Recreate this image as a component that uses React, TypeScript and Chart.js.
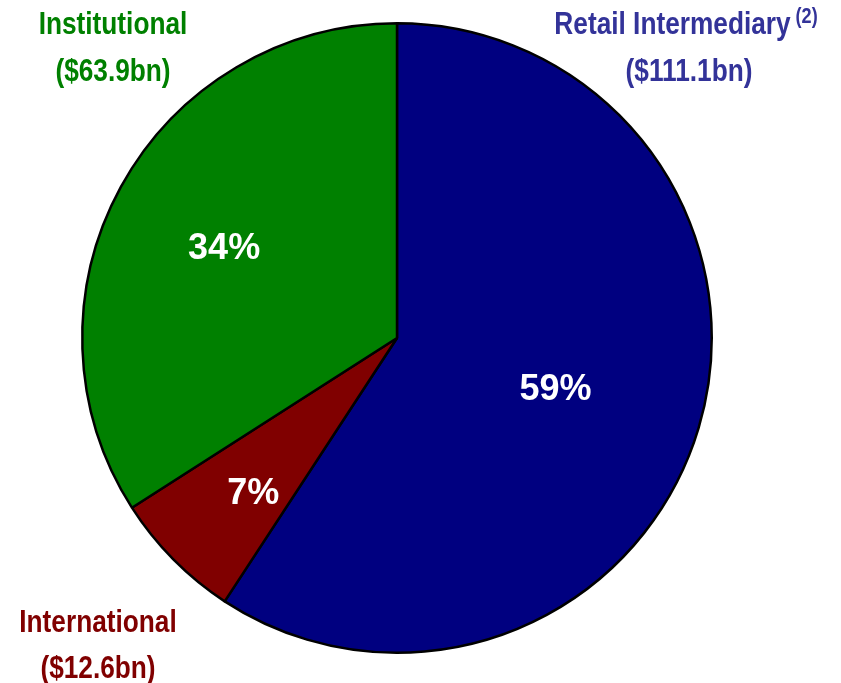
import React, { useEffect, useRef } from "react";
import { Chart, registerables } from "chart.js";

Chart.register(...registerables);

const categories = ["Retail Intermediary", "International", "Institutional"];
const aumValues = [111.1, 12.6, 63.9];
const amountLabels = ["($111.1bn)", "($12.6bn)", "($63.9bn)"];
const footnotes = ["(2)", "", ""];
const sliceColors = ["#000080", "#800000", "#008000"];
const labelColors = ["#333399", "#800000", "#008000"];

// label placement (layout only): [line1 centre x, line1 baseline, line2 centre x, line2 baseline]
const pctRadiusFrac = [0.53, 0.674, 0.617];
const pctAnglePos = [0.507, 0.39, 0.487];
const outsideLayout = [
  [686, 34, 689, 81],
  [98, 632, 98, 678],
  [113, 34, 113, 81],
];

const NARROW = 0.82;
const LABEL_FONT = "bold 32px 'Liberation Sans', Arial, sans-serif";
const SUP_FONT = "bold 22px 'Liberation Sans', Arial, sans-serif";
const PCT_FONT = "bold 36px 'Liberation Sans', Arial, sans-serif";

function narrowText(ctx: any, text: string, x: number, y: number, align: "left" | "center") {
  const w = ctx.measureText(text).width * NARROW;
  const left = align === "center" ? x - w / 2 : x;
  ctx.save();
  ctx.translate(left, y);
  ctx.scale(NARROW, 1);
  ctx.textAlign = "left";
  ctx.fillText(text, 0, 0);
  ctx.restore();
  return w;
}

const labelPlugin = {
  id: "pieLabels",
  afterDatasetsDraw(chart: any) {
    const ctx = chart.ctx;
    const meta = chart.getDatasetMeta(0);
    const data = chart.data.datasets[0].data as number[];
    const total = data.reduce((a, b) => a + b, 0);
    ctx.save();
    meta.data.forEach((arc: any, i: number) => {
      const { x, y, startAngle, endAngle, outerRadius } = arc.getProps(
        ["x", "y", "startAngle", "endAngle", "outerRadius"],
        true
      );
      const a = startAngle + (endAngle - startAngle) * pctAnglePos[i];
      const r = outerRadius * pctRadiusFrac[i];
      ctx.font = PCT_FONT;
      ctx.fillStyle = "#ffffff";
      ctx.textAlign = "center";
      ctx.textBaseline = "middle";
      ctx.fillText(Math.round((data[i] / total) * 100) + "%", x + Math.cos(a) * r, y + Math.sin(a) * r);
    });
    categories.forEach((name, i) => {
      const [cx1, b1, cx2, b2] = outsideLayout[i];
      ctx.fillStyle = labelColors[i];
      ctx.textBaseline = "alphabetic";
      ctx.font = LABEL_FONT;
      const w1 = ctx.measureText(name).width * NARROW;
      const sup = footnotes[i];
      let supW = 0;
      if (sup) {
        ctx.font = SUP_FONT;
        supW = ctx.measureText(sup).width * NARROW + 5;
      }
      const startX = cx1 - (w1 + supW) / 2;
      ctx.font = LABEL_FONT;
      narrowText(ctx, name, startX, b1, "left");
      if (sup) {
        ctx.font = SUP_FONT;
        narrowText(ctx, sup, startX + w1 + 5, b1 - 11, "left");
      }
      ctx.font = LABEL_FONT;
      narrowText(ctx, amountLabels[i], cx2, b2, "center");
    });
    ctx.restore();
  },
};

export default function App() {
  const canvasRef = useRef<HTMLCanvasElement | null>(null);
  useEffect(() => {
    if (!canvasRef.current) return;
    const chart = new Chart(canvasRef.current, {
      type: "pie",
      data: {
        labels: categories,
        datasets: [
          {
            data: aumValues,
            backgroundColor: sliceColors,
            borderColor: "#000000",
            borderWidth: 2.5,
          },
        ],
      },
      options: {
        responsive: false,
        animation: false,
        layout: { padding: { left: 81, top: 22, right: 128, bottom: 29 } },
        plugins: {
          legend: { display: false },
          tooltip: { enabled: false },
        },
      },
      plugins: [labelPlugin],
    });
    return () => chart.destroy();
  }, []);
  return (
    <div style={{ position: "fixed", left: 0, top: 0, width: 841, height: 683, background: "#ffffff" }}>
      <canvas ref={canvasRef} width={841} height={683} style={{ width: 841, height: 683 }} />
    </div>
  );
}
